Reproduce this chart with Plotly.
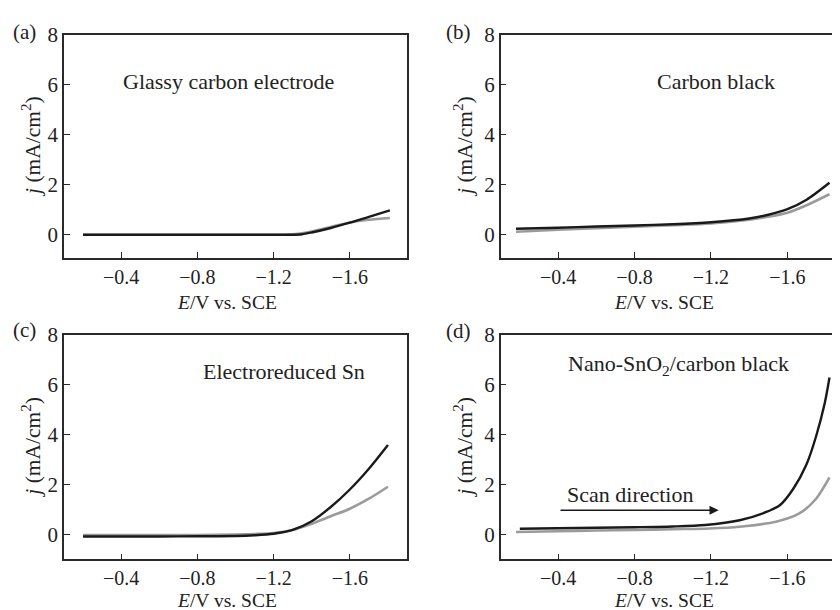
import plotly.graph_objects as go

# ---------------- data ----------------
E_a = [-0.2, -0.4, -0.6, -0.8, -1.0, -1.2, -1.28, -1.35, -1.4, -1.5, -1.6, -1.7, -1.81]
j_a_black = [0.0, 0.0, 0.0, 0.0, 0.0, 0.0, 0.0, 0.02, 0.09, 0.27, 0.48, 0.71, 0.97]
j_a_gray = [0.0, 0.0, 0.0, 0.0, 0.0, 0.0, 0.01, 0.06, 0.13, 0.31, 0.49, 0.6, 0.67]

E_b = [-0.18, -0.4, -0.6, -0.8, -1.0, -1.2, -1.4, -1.5, -1.6, -1.7, -1.82]
j_b_black = [0.24, 0.28, 0.33, 0.37, 0.42, 0.5, 0.65, 0.8, 1.02, 1.4, 2.08]
j_b_gray = [0.12, 0.2, 0.26, 0.32, 0.38, 0.45, 0.6, 0.72, 0.88, 1.18, 1.62]

E_c = [-0.2, -0.4, -0.6, -0.8, -1.0, -1.1, -1.2, -1.3, -1.4, -1.5, -1.6, -1.7, -1.8]
j_c_black = [-0.06, -0.06, -0.06, -0.05, -0.04, -0.01, 0.05, 0.2, 0.55, 1.12, 1.82, 2.65, 3.6]
j_c_gray = [0.0, 0.0, 0.0, 0.0, 0.02, 0.04, 0.08, 0.2, 0.45, 0.75, 1.05, 1.45, 1.93]

E_d_black = [-0.2, -0.4, -0.6, -0.8, -1.0, -1.17, -1.35, -1.49, -1.56, -1.63, -1.7, -1.75, -1.795, -1.82]
j_d_black = [0.25, 0.27, 0.29, 0.31, 0.34, 0.40, 0.59, 0.92, 1.19, 1.84, 2.83, 3.95, 5.27, 6.3]
E_d_gray = [-0.18, -0.4, -0.6, -0.8, -1.0, -1.19, -1.35, -1.54, -1.66, -1.75, -1.82]
j_d_gray = [0.12, 0.15, 0.18, 0.2, 0.23, 0.26, 0.33, 0.53, 0.85, 1.45, 2.3]

panel_labels = ["(a)", "(b)", "(c)", "(d)"]
panel_titles = ["Glassy carbon electrode", "Carbon black", "Electroreduced Sn",
                "Nano-SnO<sub>2</sub>/carbon black"]
x_ticks = [-0.4, -0.8, -1.2, -1.6]
x_tick_text = ["\u22120.4", "\u22120.8", "\u22121.2", "\u22121.6"]
y_ticks = [0, 2, 4, 6, 8]
x_title = "<i>E</i>/V vs. SCE"
y_title = "<i>j</i> (mA/cm<sup>2</sup>)"
scan_label = "Scan direction"

# ---------------- layout helpers ----------------
# the page body has an 8 px margin, so figure px = page px - 8
OFF = 8
W, H = 832, 610
FONT = "Liberation Serif"
BLACK = "#1a1a1a"
GRAY = "#9b9b9b"
AXC = "#2a2a2a"
TXT = "#222222"

def fx(p):
    return (p - OFF) / W

def fy(p):
    return 1 - (p - OFF) / H

cols = [(64, 407, [-0.1, -1.9]), (500.7, 840, [-0.1, -1.875])]
rows = [(23, 251, [-0.94, 8.0]), (329.3, 558.3, [-0.98, 8.0])]

fig = go.Figure()

series = [
    (E_a, j_a_black, E_a, j_a_gray),
    (E_b, j_b_black, E_b, j_b_gray),
    (E_c, j_c_black, E_c, j_c_gray),
    (E_d_black, j_d_black, E_d_gray, j_d_gray),
]

title_pos = [(-0.964, 6.13), (-1.226, 6.12), (-1.256, 6.55), (-1.029, 6.8)]
label_px = [(24, 20), (458.5, 20), (24, 324), (458.5, 325)]
ytitle_x = [31.5, 463.5]
xtitle_y = [296, 600]

annotations = []
for i in range(4):
    r, c = divmod(i, 2)
    x0, x1, xr = cols[c]
    y0, y1, yr = rows[r]
    n = i + 1
    xa = "x" if n == 1 else f"x{n}"
    ya = "y" if n == 1 else f"y{n}"
    xkey = "xaxis" if n == 1 else f"xaxis{n}"
    ykey = "yaxis" if n == 1 else f"yaxis{n}"
    ex_b, jb, ex_g, jg = series[i]
    fig.add_trace(go.Scatter(x=ex_g, y=jg, mode="lines", xaxis=xa, yaxis=ya,
                             line=dict(color=GRAY, width=2.6, shape="spline", smoothing=0.8),
                             showlegend=False, hoverinfo="skip"))
    fig.add_trace(go.Scatter(x=ex_b, y=jb, mode="lines", xaxis=xa, yaxis=ya,
                             line=dict(color=BLACK, width=2.4, shape="spline", smoothing=0.8),
                             showlegend=False, hoverinfo="skip"))
    fig.layout[xkey] = dict(
        domain=[max(0, fx(x0)), min(1, fx(x1))], range=xr, anchor=ya,
        tickvals=x_ticks, ticktext=x_tick_text, ticks="inside", ticklen=6,
        tickwidth=1.3, tickcolor=AXC, showline=True, linecolor=AXC, linewidth=1.5,
        mirror=True, showgrid=False, zeroline=False,
        tickfont=dict(family=FONT, size=20, color=TXT), fixedrange=True,
    )
    fig.layout[ykey] = dict(
        domain=[fy(y1), fy(y0)], range=yr, anchor=xa,
        tickvals=y_ticks, ticks="inside", ticklen=6,
        tickwidth=1.3, tickcolor=AXC, showline=True, linecolor=AXC, linewidth=1.5,
        mirror=(c == 0), showgrid=False, zeroline=False,
        tickfont=dict(family=FONT, size=21, color=TXT), fixedrange=True,
    )
    tx, ty = title_pos[i]
    annotations.append(dict(x=tx, y=ty, xref=xa, yref=ya, text=panel_titles[i],
                            showarrow=False, xanchor="center", yanchor="middle",
                            font=dict(family=FONT, size=22, color=TXT)))
    lx, ly = label_px[i]
    annotations.append(dict(x=fx(lx), y=fy(ly), xref="paper", yref="paper",
                            text=panel_labels[i], showarrow=False,
                            xanchor="center", yanchor="middle",
                            font=dict(family=FONT, size=21, color=TXT)))
    annotations.append(dict(x=-0.955, y=fy(xtitle_y[r]), xref=xa, yref="paper",
                            text=x_title, showarrow=False,
                            xanchor="center", yanchor="middle",
                            font=dict(family=FONT, size=19.5, color=TXT)))
    annotations.append(dict(x=fx(ytitle_x[c]), y=fy((y0 + y1) / 2), xref="paper", yref="paper",
                            text=y_title, showarrow=False, textangle=-90,
                            xanchor="center", yanchor="middle",
                            font=dict(family=FONT, size=21.5, color=TXT)))

annotations.append(dict(x=-1.24, y=0.99, ax=-0.405, ay=0.99, xref="x4", yref="y4",
                        axref="x4", ayref="y4", text="", showarrow=True,
                        arrowhead=2, arrowsize=1.3, arrowwidth=1.4, arrowcolor=BLACK))
annotations.append(dict(x=-0.778, y=1.62, xref="x4", yref="y4", text=scan_label,
                        showarrow=False, xanchor="center", yanchor="middle",
                        font=dict(family=FONT, size=22, color=TXT)))

fig.update_layout(
    width=W, height=H, margin=dict(l=0, r=0, t=0, b=0),
    paper_bgcolor="white", plot_bgcolor="white",
    annotations=annotations, showlegend=False,
)

fig.write_html("out.html")
